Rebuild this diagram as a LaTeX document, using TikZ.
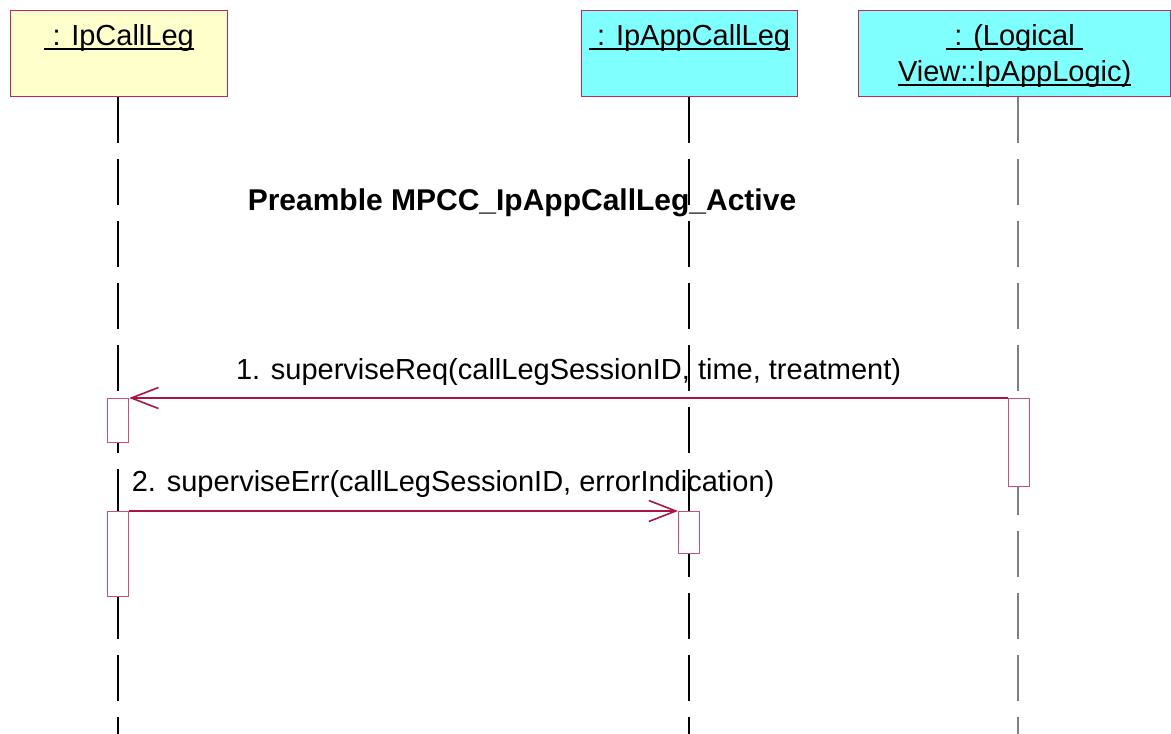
\documentclass[tikz,border=0pt]{standalone}
\usepackage{fontspec}
\setmainfont{Liberation Sans}
\usepackage{tikz}
\usetikzlibrary{positioning,arrows.meta,calc}
\usepackage{xcolor}
\definecolor{objyellow}{RGB}{255,255,204}
\definecolor{objcyan}{RGB}{128,255,255}
\definecolor{objborder}{RGB}{190,40,90}
\definecolor{actborder}{RGB}{200,80,120}
\definecolor{msgline}{RGB}{170,20,75}
% underline for object names
\newcommand{\objul}[1]{\setbox0\hbox{#1}\rlap{\rule[-5pt]{\wd0}{2pt}}\box0}

\begin{document}
\begin{tikzpicture}[x=1pt,y=-1pt,
  objbox/.style={draw=objborder,line width=1.3pt,rectangle,anchor=north west,inner sep=0pt},
  objname/.style={font=\fontsize{29}{36}\selectfont,align=center,anchor=north,inner sep=0pt},
  lifeline/.style={line width=1.1pt,dash pattern=on 46pt off 16pt},
  actbox/.style={draw=actborder,fill=white,line width=1.2pt,rectangle,anchor=north west,
    minimum width=21pt,inner sep=0pt},
  msg/.style={draw=msgline,line width=1.3pt,-{Straight Barb[length=27pt,width=21pt,line width=1.6pt]}},
  msglabel/.style={font=\fontsize{29}{36}\selectfont,inner sep=2pt}]
\useasboundingbox (0,0) rectangle (1171,734);
% Objects
\node[objbox,fill=objyellow,minimum width=217pt,minimum height=86pt] (boxA) at (10,10) {};
\node[objbox,fill=objcyan,minimum width=216pt,minimum height=86pt] (boxB) at (581,10) {};
\node[objbox,fill=objcyan,minimum width=312pt,minimum height=86pt] (boxC) at (858,10) {};
\node[objname] (nameA) at ([yshift=-14pt]boxA.north) {\objul{\ : IpCallLeg}};
\node[objname] (nameB) at ([yshift=-14pt]boxB.north) {\objul{\ : IpAppCallLeg}};
\node[objname] (nameC) at ([yshift=-14pt]boxC.north) {\objul{\ : (Logical\ }\\\objul{View::IpAppLogic)}};
% Lifelines
\coordinate (endA) at (118,734);
\coordinate (endB) at (689,734);
\coordinate (endC) at (1018,734);
\draw[lifeline] (boxA.south -| endA) -- (endA);
\draw[lifeline] (boxB.south -| endB) -- (endB);
\draw[lifeline,gray] (boxC.south -| endC) -- (endC);
% Title
\node[font=\fontsize{30}{36}\selectfont\bfseries] (title) at (522,203) {Preamble MPCC\_IpAppCallLeg\_Active};
% Activations
\node[actbox,minimum height=44pt] (actA1) at (107,398) {};
\node[actbox,minimum height=85pt] (actA2) at (107,511) {};
\node[actbox,minimum height=42pt] (actB) at (678,511) {};
\node[actbox,minimum height=88pt] (actC) at (1008,398) {};
% Messages
\draw[msg] (actC.north west) -- (actA1.north east)
  node[msglabel,midway,above=10pt] {1. superviseReq(callLegSessionID, time, treatment)};
\draw[msg] (actA2.north east) -- (actB.north west)
  node[msglabel,at start,anchor=south west,yshift=11pt] {2. superviseErr(callLegSessionID, errorIndication)};
\end{tikzpicture}
\end{document}
